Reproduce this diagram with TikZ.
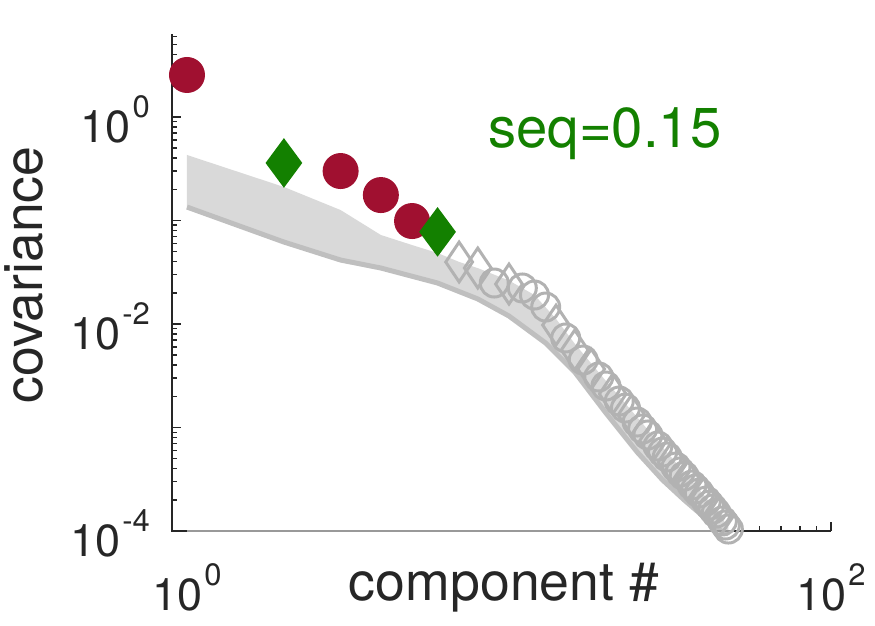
\documentclass[tikz,border=0pt]{standalone}
\usepackage{fontspec}
\setmainfont{TeX Gyre Heros}
\usetikzlibrary{shapes.geometric}
\definecolor{sigred}{RGB}{160,16,48}
\definecolor{siggreen}{RGB}{19,128,0}
\definecolor{axisdark}{RGB}{38,38,38}
\newcommand{\tenexp}[1]{10\kern1pt\raisebox{0.55em}{\fontsize{17.6}{18}\selectfont #1}}

\begin{document}
\begin{tikzpicture}[
  x={(6.44cm,0)}, y={(0,2.07cm)},
  axis/.style      = {draw=axisdark, line width=0.03cm},
  ticklabel/.style = {inner sep=0pt, text=axisdark, font=\fontsize{25.6}{26}\selectfont},
  axislabel/.style = {inner sep=0pt, text=axisdark, font=\fontsize{30.5}{31}\selectfont},
  band/.style      = {fill=black!15},
  nullline/.style  = {draw=black!25, line width=0.1cm, line join=round},
  nullcirc/.style  = {circle, draw=black!30, line width=0.06cm, minimum size=0.56cm, inner sep=0pt},
  nulldiam/.style  = {diamond, draw=black!30, line width=0.06cm, minimum width=0.56cm, minimum height=0.82cm, inner sep=0pt},
  sigcirc/.style   = {circle, fill=sigred, minimum size=0.72cm, inner sep=0pt},
  sigdiam/.style   = {diamond, fill=siggreen, minimum width=0.74cm, minimum height=1.0cm, inner sep=0pt}]

	% frame of the figure, x = log10(component), y = log10(covariance)
	\useasboundingbox (-0.5807,-4.9082) rectangle (2.1366,1.1304);

	% null band, upper edge forward and lower edge back
	\fill[band] (0,-0.367)
	  \foreach \k/\v in {2/-0.676, 3/-0.899, 4/-1.140, 5/-1.237, 6/-1.314, 7/-1.40, 8/-1.46, 10/-1.58,
	    12/-1.72, 14/-1.95, 16/-2.19, 20/-2.55, 25/-2.90, 30/-3.19, 35/-3.43, 40/-3.64, 45/-3.84, 48/-3.96}
	  { -- ({log10(\k)},\v) }
	  \foreach \k/\v in {48/-4.03, 45/-3.99, 40/-3.855, 35/-3.700, 30/-3.507, 25/-3.237, 20/-2.860,
	    16/-2.464, 13/-2.184, 10/-1.923, 8/-1.758, 6/-1.604, 4/-1.459, 3/-1.382, 2/-1.208, 1/-0.870}
	  { -- ({log10(\k)},\v) } -- cycle;

	% lower edge of the band as a darker line
	\draw[nullline] (0,-0.870)
	  \foreach \k/\v in {2/-1.208, 3/-1.382, 4/-1.459, 6/-1.604, 8/-1.758, 10/-1.923, 13/-2.184,
	    16/-2.464, 20/-2.860, 25/-3.237, 30/-3.507, 35/-3.700, 40/-3.855, 45/-3.99, 48/-4.03}
	  { -- ({log10(\k)},\v) };

	% axes
	\coordinate (ytop) at ({log10(0.9)},0.802);
	\coordinate (orig) at ({log10(0.9)},-4);
	\coordinate (xend) at (2,-4);
	\draw[axis] (ytop) -- (orig) -- (xend);

	% ticks (the x ticks left of 60 sit under the grey base line)
	\draw[axis] (xend) -- ++(0,0.18cm);
	\foreach \m in {6,...,9}
	  \draw[axis] ({1+log10(\m)},-4) -- ++(0,0.1cm);
	\foreach \d in {-4,...,0}
	  \draw[axis] ({log10(0.9)},\d) -- ++(0.18cm,0);
	\foreach \d in {-4,...,-1}
	  \foreach \m in {2,...,9}
	    \draw[axis] ({log10(0.9)},{\d+log10(\m)}) -- ++(0.1cm,0);
	\foreach \m in {2,...,6}
	  \draw[axis] ({log10(0.9)},{log10(\m)}) -- ++(0.1cm,0);

	% grey base line at the bottom
	\coordinate (base1) at (0,-4);
	\coordinate (base50) at ({log10(50)},-4);
	\draw[black!40, line width=0.035cm] (base1) -- (base50);

	% components inside the null band
	\foreach \k/\v/\s in {7/-1.401/diam, 8/-1.459/diam, 9/-1.604/circ, 10/-1.614/diam, 11/-1.652/circ,
	    12/-1.720/circ, 13/-1.836/circ, 14/-2.010/diam, 15/-2.135/circ, 16/-2.251/diam, 17/-2.348/circ,
	    18/-2.435/diam, 19/-2.512/circ, 20/-2.599/circ, 21/-2.676/diam, 22/-2.744/circ, 23/-2.812/circ,
	    24/-2.879/diam, 25/-2.947/circ, 26/-3.014/circ, 27/-3.072/circ, 28/-3.130/diam, 29/-3.179/circ,
	    30/-3.237/circ, 31/-3.285/circ, 32/-3.333/diam, 33/-3.382/circ, 34/-3.430/circ, 35/-3.469/circ,
	    36/-3.517/diam, 37/-3.556/circ, 38/-3.594/circ, 39/-3.633/circ, 40/-3.671/diam, 41/-3.710/circ,
	    42/-3.749/circ, 43/-3.787/circ, 44/-3.826/circ, 45/-3.865/diam, 46/-3.903/circ, 47/-3.942/circ,
	    48/-3.981/circ}
	  \node[null\s] (null\k) at ({log10(\k)},\v) {};

	% significant components
	\foreach \k/\v/\s in {1/0.406/circ, 2/-0.444/diam, 3/-0.522/circ, 4/-0.754/circ, 5/-1.005/circ, 6/-1.11/diam}
	  \node[sig\s] (sig\k) at ({log10(\k)},\v) {};

	% tick labels
	\node[ticklabel, anchor=east, xshift=-0.44cm, yshift=-0.05cm] (ylab0) at ({log10(0.9)},0) {\tenexp{0}};
	\node[ticklabel, anchor=east, xshift=-0.44cm, yshift=-0.05cm] (ylab2) at ({log10(0.9)},-2) {\tenexp{-2}};
	\node[ticklabel, anchor=east, xshift=-0.44cm, yshift=-0.05cm] (ylab4) at ({log10(0.9)},-4) {\tenexp{-4}};
	\node[ticklabel, anchor=north, yshift=-0.64cm] (xlab0) at (0,-4) {\tenexp{0}};
	\node[ticklabel, anchor=north, yshift=-0.64cm] (xlab2) at (2,-4) {\tenexp{2}};

	% axis labels and the score
	\node[axislabel, rotate=90, anchor=base] (ylabel) at (-0.4472,-1.5266) {covariance};
	\node[axislabel, anchor=base] (xlabel) at (0.9845,-4.6667) {component \#};
	\node[axislabel, text=siggreen, font=\fontsize{32}{32}\selectfont, anchor=base] (score) at (1.298,-0.290) {seq=0.15};
\end{tikzpicture}
\end{document}
